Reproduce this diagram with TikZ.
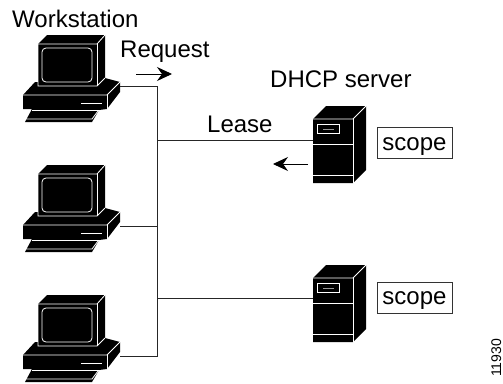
\documentclass[tikz,border=0pt]{standalone}
\usepackage{fontspec}
\setmainfont{Liberation Sans}
\usetikzlibrary{arrows.meta}
\tikzset{
  wire/.style={draw=black!85,line width=0.9pt},
  flow/.style={draw=black,line width=0.9pt,-{Stealth[length=15pt,width=14pt,inset=5pt]}},
  lbl/.style={font=\fontsize{24}{26}\selectfont,inner sep=0pt,anchor=base west},
  scopebox/.style={draw=black!80,line width=0.9pt,fill=white,font=\fontsize{24}{26}\selectfont,inner sep=0pt,minimum width=75pt,minimum height=31pt,text height=18pt,text depth=4pt},
  inner/.style={draw=white,line width=0.8pt},
  workstation/.pic={
    \fill (38,44) -- (47,35) -- (105,35) -- (105,78) -- (120,82) -- (120,92) -- (107,109) -- (99,110) -- (92,122) -- (25,122) -- (32,109) -- (23,109) -- (23,95) -- (35,82) -- (38,82) -- cycle;
    \draw[inner] (38,44) -- (97,44) -- (105,35);
    \draw[inner] (38,44) -- (38,86) -- (97,86) -- (105,78);
    \draw[inner] (97,44) -- (97,86);
    \draw[inner,rounded corners=4pt] (42,48) rectangle (92,82);
    \draw[inner] (23,95) -- (107,95) -- (120,82);
    \draw[inner] (107,95) -- (107,109);
    \draw[inner] (81,103) -- (102,103);
    \draw[inner] (32,110) -- (99,110);
    \draw[inner] (26,119) -- (92,119) -- (98,111);
  },
  serverbox/.pic={
    \fill (313,119) -- (326,106) -- (366,106) -- (366,170) -- (353,183) -- (313,183) -- cycle;
    \draw[inner] (313,119) -- (353,119) -- (366,106);
    \draw[inner] (353,119) -- (353,183);
    \draw[inner] (313,144) -- (353,144);
    \draw[inner] (313,175) -- (353,175);
    \draw[inner] (317,124.5) rectangle (339,133);
    \draw[draw=black!40,line width=1pt] (323,129) -- (334,129);
  }
}
\begin{document}
\begin{tikzpicture}[x=1pt,y=-1pt]
\useasboundingbox (0,0) rectangle (503,383);
\fill[white] (0,0) rectangle (503,383);
% icons
\pic at (0,0) {workstation};
\pic at (0,130) {workstation};
\pic at (0,260) {workstation};
\pic at (0,0) {serverbox};
\pic at (0,159) {serverbox};
% connection points
\coordinate (w1) at (120,86);
\coordinate (w2) at (120,226);
\coordinate (w3) at (120,356);
\coordinate (s1) at (313,140);
\coordinate (s2) at (313,298);
\coordinate (b1) at (157,86);
\coordinate (b2) at (157,226);
\coordinate (b3) at (157,356);
\coordinate (j1) at (157,140);
\coordinate (j2) at (157,298);
\coordinate (r0) at (136,74);
\coordinate (r1) at (172,74);
\coordinate (l0) at (308,164);
\coordinate (l1) at (273,164);
\draw[wire] (w1) -- (b1) -- (b3) -- (w3);
\draw[wire] (w2) -- (b2);
\draw[wire] (j1) -- (s1);
\draw[wire] (j2) -- (s2);
\draw[flow] (r0) -- (r1);
\draw[flow] (l0) -- (l1);
% labels
\node[lbl] (workstationlabel) at (12,27) {Workstation};
\node[lbl] (requestlabel) at (120,57) {Request};
\node[lbl] (dhcplabel) at (270,87) {DHCP server};
\node[lbl] (leaselabel) at (207,132) {Lease};
\node[scopebox] (scope1) at (414.5,143) {scope};
\node[scopebox] (scope2) at (414.5,297.5) {scope};
\node[font=\fontsize{14}{16}\selectfont,inner sep=0pt,rotate=90,anchor=base west] (figid) at (501,377) {11930};
\end{tikzpicture}
\end{document}
